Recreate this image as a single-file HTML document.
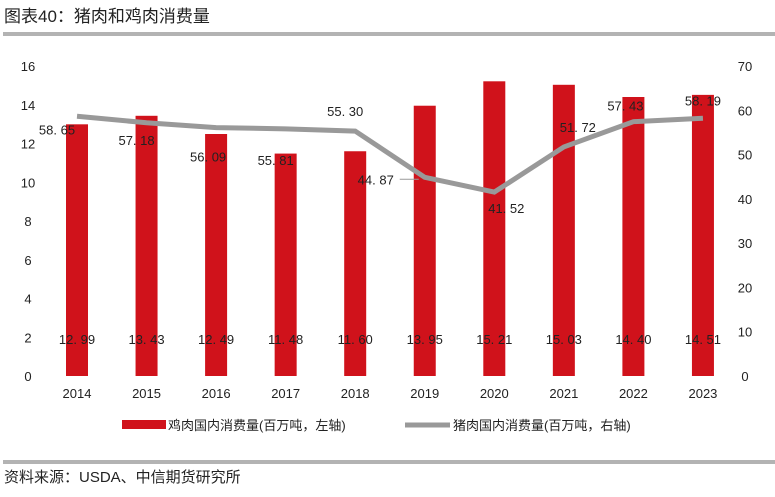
<!DOCTYPE html>
<html><head><meta charset="utf-8"><style>
body{margin:0;background:#fff;}
svg text{font-family:"Liberation Sans","Noto Sans CJK SC",sans-serif;}
</style></head><body>
<svg id="c" width="775" height="492">
<text x="4" y="22" font-size="17" fill="#222">图表40：猪肉和鸡肉消费量</text>
<rect x="3" y="32" width="772" height="4" fill="#b3b3b3"/>
<rect x="3" y="460" width="772" height="4" fill="#b3b3b3"/>
<text x="4" y="482" font-size="15" fill="#222">资料来源：USDA、中信期货研究所</text>
<g id="plot"></g>
<g>
<rect x="122" y="420" width="44" height="9" fill="#d0121b"/>
<text x="168" y="430" font-size="13" fill="#222">鸡肉国内消费量(百万吨，左轴)</text>
<line x1="405" y1="425" x2="450" y2="425" stroke="#999" stroke-width="5"/>
<text x="453" y="430" font-size="13" fill="#222">猪肉国内消费量(百万吨，右轴)</text>
</g>
</svg>
<script>
const years=["2014","2015","2016","2017","2018","2019","2020","2021","2022","2023"];
const chicken=[12.99,13.43,12.49,11.48,11.60,13.95,15.21,15.03,14.40,14.51];
const pork=[58.65,57.18,56.09,55.81,55.30,44.87,41.52,51.72,57.43,58.19];
const leftTicks=[0,2,4,6,8,10,12,14,16];
const rightTicks=[0,10,20,30,40,50,60,70];
const labelDx=[-20,-10,-8,-10,-10,-49,12,14,-8,0];
const labelDy=[18,22,34,36,-15,7,21,-15,-11,-13];
const NS="http://www.w3.org/2000/svg";
const g=document.getElementById('plot');
const x0=77,dx=69.55,yb=376,yt=66;
const xS=i=>x0+i*dx;
const yL=v=>yb-(v/16)*(yb-yt);
const yR=v=>yb-(v/70)*(yb-yt);
function mk(t,a){const e=document.createElementNS(NS,t);for(const k in a)e.setAttribute(k,a[k]);g.appendChild(e);return e;}
leftTicks.forEach(v=>{const e=mk('text',{x:28,y:yL(v)+5,'font-size':13,fill:'#222','text-anchor':'middle'});e.textContent=v;

});
rightTicks.forEach(v=>{const e=mk('text',{x:745,y:yR(v)+5,'font-size':13,fill:'#222','text-anchor':'middle'});e.textContent=v;

});
years.forEach((y,i)=>{const e=mk('text',{x:xS(i),y:398,'font-size':13,fill:'#222','text-anchor':'middle'});e.textContent=y;

});
chicken.forEach((v,i)=>{const r=mk('rect',{x:xS(i)-11,y:yL(v),width:22,height:yb-yL(v),fill:'#d0121b'});

});
const l=mk('polyline',{points:pork.map((v,i)=>xS(i)+','+yR(v)).join(' '),fill:'none',stroke:'#999','stroke-width':5});


const ld=mk('line',{x1:xS(5)-25,y1:yR(pork[5])+2,x2:xS(5)-6,y2:yR(pork[5])+2,stroke:'#999','stroke-width':1});


const fmt=v=>v.toFixed(2).replace('.','. ');
chicken.forEach((v,i)=>{const e=mk('text',{x:xS(i),y:344,'font-size':13,fill:'#222','text-anchor':'middle'});e.textContent=fmt(v);

});
pork.forEach((v,i)=>{const e=mk('text',{x:xS(i)+labelDx[i],y:yR(v)+labelDy[i],'font-size':13,fill:'#222','text-anchor':'middle'});e.textContent=fmt(v);

});
</script>
</body></html>
